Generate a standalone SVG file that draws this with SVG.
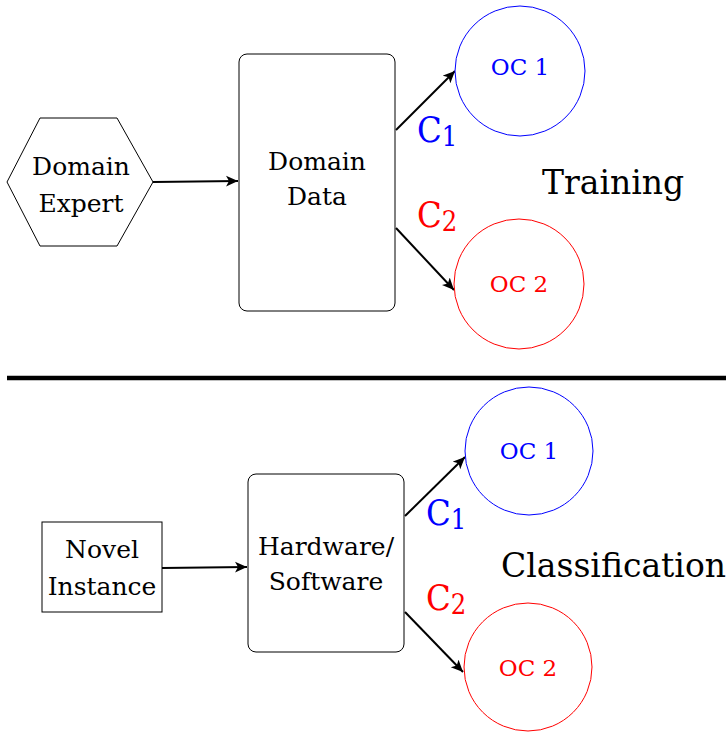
<svg xmlns="http://www.w3.org/2000/svg" width="726" height="736" viewBox="0 0 726 736">
<style>
text{font-family:"DejaVu Serif","Liberation Serif",serif;text-anchor:middle}
.lbl{font-size:25px;fill:#000}
.oc{font-size:23px}
.big{font-size:33px;fill:#000;text-anchor:start}
.node{fill:#fff;stroke:#000;stroke-width:1}
.conn{stroke:#000;stroke-width:2;fill:none;marker-end:url(#ah)}
.blue{fill:#0000ff}
.red{fill:#ff0000}
.c{font-size:36px;font-stretch:condensed;text-anchor:start}
.sub{font-size:27px}
</style>
<defs>
<marker id="ah" viewBox="0 0 10 10" refX="10" refY="5" markerWidth="12" markerHeight="12" markerUnits="userSpaceOnUse" orient="auto">
<path d="M0,0.5 L10,5 L0,9.5 L2.5,5 z" fill="#000"/>
</marker>
</defs>
<g id="connectors">
<line class="conn" x1="153" y1="182" x2="238" y2="181"/>
<line class="conn" x1="396" y1="130" x2="455" y2="71"/>
<line class="conn" x1="396" y1="228" x2="454" y2="290"/>
<line class="conn" x1="162" y1="568" x2="247" y2="567"/>
<line class="conn" x1="405" y1="516" x2="465" y2="457"/>
<line class="conn" x1="405" y1="612" x2="463" y2="672"/>
</g>
<g id="domain-expert">
<polygon class="node" points="7,182 40,118 117,118 153,182 117,246 40,246"/>
<text class="lbl" x="81" y="175">Domain</text>
<text class="lbl" x="81" y="212">Expert</text>
</g>
<g id="domain-data">
<rect class="node" x="239" y="54" width="156" height="257" rx="8"/>
<text class="lbl" x="317" y="170">Domain</text>
<text class="lbl" x="317" y="205">Data</text>
</g>
<g id="oc1-train">
<circle cx="520" cy="71" r="65" fill="#fff" stroke="#0000ff"/>
<text class="oc blue" x="520" y="75">OC 1</text>
</g>
<g id="oc2-train">
<circle cx="519" cy="284" r="65" fill="#fff" stroke="#ff0000"/>
<text class="oc red" x="519" y="292">OC 2</text>
</g>
<g id="c1-train"><text class="c blue" x="417" y="142">C<tspan class="sub" dy="4">1</tspan></text></g>
<g id="c2-train"><text class="c red" x="417" y="227">C<tspan class="sub" dy="4">2</tspan></text></g>
<text class="big" x="542" y="194">Training</text>
<line id="divider" x1="7" y1="378" x2="726" y2="378" stroke="#000" stroke-width="4.5"/>
<g id="novel-instance">
<rect class="node" x="42" y="522" width="120" height="90"/>
<text class="lbl" x="102" y="558">Novel</text>
<text class="lbl" x="102" y="595">Instance</text>
</g>
<g id="hardware-software">
<rect class="node" x="248" y="474" width="156" height="178" rx="8"/>
<text class="lbl" x="326" y="555">Hardware/</text>
<text class="lbl" x="326" y="590">Software</text>
</g>
<g id="oc1-class">
<circle cx="529" cy="451" r="64" fill="#fff" stroke="#0000ff"/>
<text class="oc blue" x="529" y="459">OC 1</text>
</g>
<g id="oc2-class">
<circle cx="528" cy="667" r="64" fill="#fff" stroke="#ff0000"/>
<text class="oc red" x="528" y="676">OC 2</text>
</g>
<g id="c1-class"><text class="c blue" x="426" y="525">C<tspan class="sub" dy="4">1</tspan></text></g>
<g id="c2-class"><text class="c red" x="426" y="610">C<tspan class="sub" dy="4">2</tspan></text></g>
<text class="big" x="501" y="577">Classification</text>
</svg>
